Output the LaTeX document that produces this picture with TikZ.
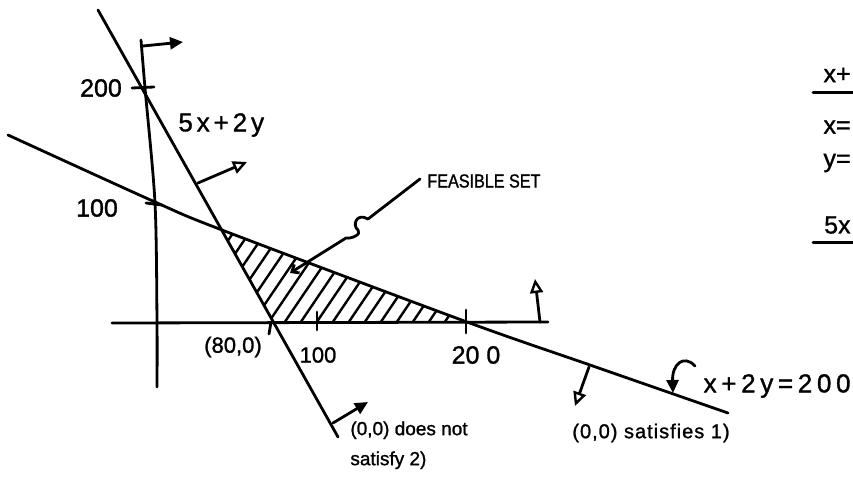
\documentclass[tikz,border=0pt]{standalone}
\usepackage{fontspec}
\setmainfont{Liberation Sans}[FakeBold=1.2]
\usetikzlibrary{arrows.meta}
\newcommand{\Hachures}[3]%
% sommets du triangle
{ \begin{scope}
    \clip (#1) -- (#2) -- (#3) -- cycle;
    \foreach \h in {150,166,...,480}
    {   \draw[hachure] (\h,332) -- ++(80,-118);
    }
  \end{scope}
}
\newcommand{\Souligne}[2]%
% depart, arrivee
{   \draw[line width=3pt] (#1) -- (#2); }

\begin{document}
\begin{tikzpicture}
[   x=1pt, y=-1pt, line width=2.8pt, line cap=round, line join=round,
    hachure/.style={line width=2.4pt},
    ouvert/.style={-{Triangle[open,length=14pt,width=13pt,line width=2.4pt]}},
    plein/.style={-{Triangle[length=13pt,width=12pt]}},
    crochet/.style={-{Straight Barb[length=6pt,width=10pt]}},
    chiffre/.style={font=\fontsize{25}{28}\selectfont, inner sep=0},
    large/.style={font=\fontsize{26}{30}\selectfont\addfontfeature{LetterSpace=15}, inner sep=0},
    coord/.style={font=\fontsize{22}{26}\selectfont, inner sep=0},
    note/.style={font=\fontsize{19}{30}\selectfont, inner sep=0, align=left}
]
    \useasboundingbox (0,0) rectangle (853,482);

    % axes
    \coordinate (Ytop) at (141,40);
    \coordinate (Y200) at (145,88);
    \coordinate (Y100) at (155,203);
    \coordinate (O) at (157,322);
    \coordinate (Ybot) at (157,387);
    \draw plot[smooth] coordinates {(Ytop) (Y200) (Y100) (O) (Ybot)};
    \coordinate (Xl) at (112,323);
    \coordinate (Xr) at (548,322);
    \draw (Xl) -- (Xr);
    \coordinate (Fa) at (143,46);
    \coordinate (Fb) at (183,42);
    \draw[plein] (Fa) -- (Fb);

    % graduations
    \draw (132,88) -- (154,87);
    \draw (146,203) -- (162,205);
    \draw (271,322) -- (269,334);
    \draw (317,312) -- (317,330);
    \draw (466,310) -- (466,333);

    % droites
    \coordinate (A1) at (98,10);
    \coordinate (A2) at (338,437);
    \draw (A1) -- (A2);
    \coordinate (V) at (222,230);
    \coordinate (P80) at (273,322);
    \coordinate (P200) at (467,322);
    \draw plot[smooth, tension=.5] coordinates
        {(8,135) (155,202) (V) (P200) (590,365) (728,413)};

    % ensemble admissible
    \Hachures{V}{P80}{P200}

    % demi-plans
    \coordinate (Ha) at (198,183);
    \coordinate (Hb) at (247,162);
    \draw[ouvert] (Ha) -- (Hb);
    \coordinate (Ka) at (540,322);
    \coordinate (Kb) at (535,279);
    \draw[ouvert] (Ka) -- (Kb);
    \coordinate (La) at (589,367);
    \coordinate (Lb) at (575,406);
    \draw[ouvert] (La) -- (Lb);
    \coordinate (Ma) at (333,423);
    \coordinate (Mb) at (368,402);
    \draw[plein] (Ma) -- (Mb);
    \coordinate (Na) at (695,366);
    \coordinate (Nb) at (673,393);
    \draw[plein] (Na) .. controls (684,354) and (672,364) .. (Nb);

    % textes
    \node[chiffre] (t200) at (101,88) {200};
    \node[chiffre] (t100) at (97,208) {100};
    \node[large, anchor=west] (eqA) at (177,125) {5x+2y};
    \node[font=\fontsize{19}{22}\selectfont\addfontfeature{FakeStretch=0.85}, inner sep=0, anchor=west] (feas) at (426,181) {FEASIBLE SET};
    \node[coord] (p80) at (233,347) {(80,0)};
    \node[coord] (x100) at (318,355) {100};
    \node[chiffre] (x200) at (476,355) {20 0};
    \node[note, anchor=north west] (nonsat) at (349,420) {(0,0) does not\\satisfy 2)};
    \node[note, font=\fontsize{20}{24}\selectfont\addfontfeature{LetterSpace=5}] (sat) at (651,433) {(0,0) satisfies 1)};
    \node[large, anchor=east, font=\fontsize{26}{30}\selectfont\addfontfeature{LetterSpace=18}] (eqB) at (852,386) {x+2y=200};

    % fleche vers l'ensemble
    \coordinate (Fs) at (420,179);
    \coordinate (Fe) at (290,273);
    \draw[crochet] (Fs) -- (368,219) .. controls (356,212) and (352,226) .. (358,230)
        .. controls (362,234) and (352,239) .. (346,238) -- (Fe);

    % colonne de droite
    \node[chiffre, anchor=east] (r1) at (852,75) {x+};
    \Souligne{813,92}{853,92}
    \node[chiffre, anchor=east] (r2) at (852,127) {x=};
    \node[chiffre, anchor=east] (r3) at (852,163) {y=};
    \node[chiffre, anchor=east] (r4) at (852,225) {5x};
    \Souligne{813,242}{853,242}
\end{tikzpicture}
\end{document}
